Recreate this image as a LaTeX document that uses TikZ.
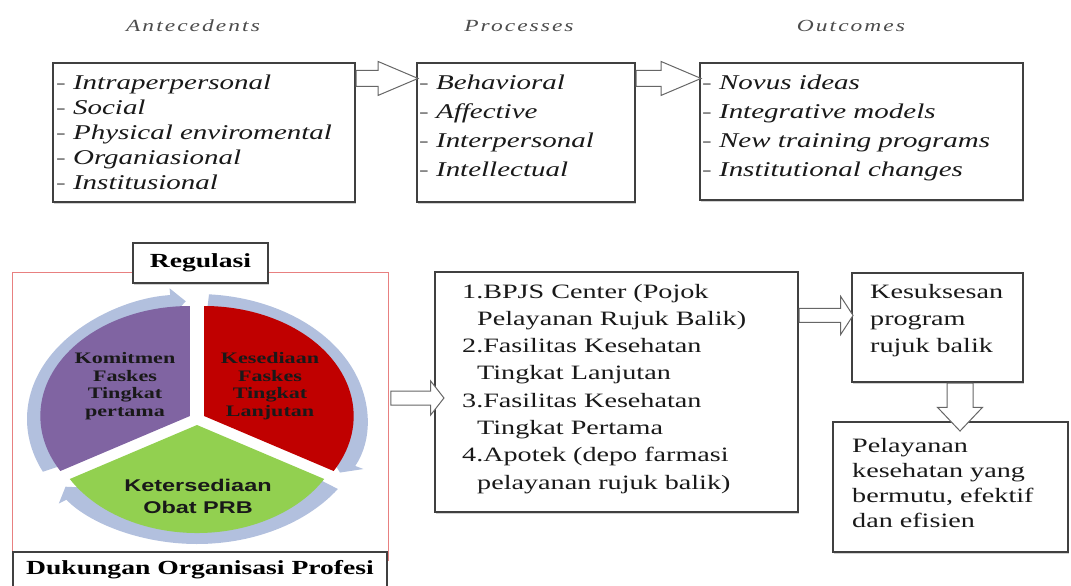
\documentclass[tikz,border=0pt]{standalone}
\usepackage{fontspec}
\setmainfont{Liberation Serif}[FakeStretch=1.38]
\newfontfamily\headfont{Liberation Serif}[FakeStretch=1.38, LetterSpace=12]
\newfontfamily\piesans{Liberation Sans}[FakeStretch=1.38]
\usepackage{tikz}
\usepackage{xcolor}
\usetikzlibrary{shapes,arrows.meta,positioning,calc,shadows}

\definecolor{ringblue}{RGB}{178,192,222}
\definecolor{segpurple}{RGB}{128,100,162}
\definecolor{segred}{RGB}{192,0,0}
\definecolor{seggreen}{RGB}{146,208,80}
\definecolor{framered}{RGB}{232,128,128}

\tikzset{
  infobox/.style={draw=black!75, line width=1.1pt, fill=white, inner sep=0pt,
    drop shadow={shadow xshift=1.2pt, shadow yshift=-1.5pt, fill=black!35}},
  tagbox/.style={infobox, font=\bfseries\fontsize{20}{24}\selectfont},
  headtext/.style={font=\headfont\itshape\fontsize{17}{20}\selectfont, text=black!70, anchor=base},
  itemtext/.style={font=\itshape\fontsize{21}{25}\selectfont, text=black!90, anchor=base west, inner sep=0pt},
  listtext/.style={font=\fontsize{20.4}{27}\selectfont, text=black!90, anchor=base west, inner sep=0pt},
  segtext/.style={font=\bfseries\fontsize{16}{17.5}\selectfont, text=black!90, align=center},
  blockarrow/.style={single arrow, draw=black!60, fill=white, line width=1pt,
    inner xsep=0pt, inner ysep=7.5pt, anchor=tail,
    single arrow head extend=9pt, single arrow tip angle=46}
}

\begin{document}
\begin{tikzpicture}[x=1pt, y=-1pt]
\useasboundingbox (0,0) rectangle (1071,586);

% --- upper model: antecedents -> processes -> outcomes
\node[headtext] (anteh) at (193,32) {Antecedents};
\node[headtext] (proch) at (519,32) {Processes};
\node[headtext] (outch) at (851,32) {Outcomes};

\node[infobox, minimum width=302pt, minimum height=139pt] (ante) at (204,132.5) {};
\node[infobox, minimum width=218pt, minimum height=139pt] (proc) at (526,132.5) {};
\node[infobox, minimum width=323pt, minimum height=137pt] (outc) at (861.5,131.5) {};

\foreach \t [count=\i] in {Intraperpersonal, Social, Physical enviromental, Organiasional, Institusional}
  \node[itemtext] (ante\i) at (56,{89+25*(\i-1)}) {{\color{black!55}-} \t};
\foreach \t [count=\i] in {Behavioral, Affective, Interpersonal, Intellectual}
  \node[itemtext] (proc\i) at (419,{89+29*(\i-1)}) {{\color{black!55}-} \t};
\foreach \t [count=\i] in {Novus ideas, Integrative models, New training programs, Institutional changes}
  \node[itemtext] (outc\i) at (702,{89+29*(\i-1)}) {{\color{black!55}-} \t};

\node[blockarrow, minimum height=62pt] (a1) at ($(ante.north east)+(0,16)$) {};
\node[blockarrow, minimum height=65pt] (a2) at ($(proc.north east)+(0,16)$) {};

% --- lower model: cycle with its frame
\node[draw=framered, line width=0.9pt, minimum width=376pt, minimum height=288pt] (frame) at (200,416) {};

\begin{scope}[transform canvas={shift={(197,419)}, xscale=1.36}, yscale=-1]
  \foreach \a/\b in {205/94, 86/-27, -34/-145}
    \draw[ringblue, line width=14pt, -{Triangle[length=11pt, width=27pt]}]
      (\a:118) arc[start angle=\a, end angle=\b, radius=118];
  \fill[segpurple] (150:6) -- ++(90:110) arc[start angle=90, end angle=210, radius=110] -- cycle;
  \fill[segred] (30:6) -- ++(-30:110) arc[start angle=-30, end angle=90, radius=110] -- cycle;
  \fill[seggreen] (270:6) -- ++(210:108) arc[start angle=210, end angle=330, radius=108] -- cycle;
\end{scope}

\node[segtext] (komit) at (125,386) {Komitmen\\Faskes\\Tingkat\\pertama};
\node[segtext] (sedia) at (270,386) {Kesediaan\\Faskes\\Tingkat\\Lanjutan};
\node[segtext, font=\piesans\bfseries\fontsize{17}{22}\selectfont] (obat) at (198,496) {Ketersediaan\\Obat PRB};

\node[tagbox, minimum width=135pt, minimum height=40pt] (reg) at (200.5,263) {Regulasi};
\node[tagbox, minimum width=374pt, minimum height=36pt] (dukung) at (200,570) {Dukungan Organisasi Profesi};

% --- service points and results
\node[infobox, minimum width=363pt, minimum height=240pt] (fasil) at (616.5,392) {};
\foreach \x/\t [count=\i] in {462/{1.BPJS Center (Pojok}, 477/{Pelayanan Rujuk Balik)},
    462/{2.Fasilitas Kesehatan}, 477/{Tingkat Lanjutan}, 462/{3.Fasilitas Kesehatan},
    477/{Tingkat Pertama}, 462/{4.Apotek (depo farmasi}, 477/{pelayanan rujuk balik)}}
  \node[listtext] (fasil\i) at (\x,{298+27.3*(\i-1)}) {\t};

\node[infobox, minimum width=171pt, minimum height=109pt] (sukses) at (937.5,327.5) {};
\foreach \t [count=\i] in {Kesuksesan, program, rujuk balik}
  \node[listtext] (sukses\i) at (870,{298+27*(\i-1)}) {\t};

\node[infobox, minimum width=235pt, minimum height=130pt] (mutu) at (950.5,487) {};
\foreach \t [count=\i] in {Pelayanan, kesehatan yang, {bermutu, efektif}, dan efisien}
  \node[listtext] (mutu\i) at (852,{452+25*(\i-1)}) {\t};

\node[blockarrow, minimum height=53pt, inner ysep=6.5pt, single arrow head extend=10pt, single arrow tip angle=104] (a3) at ($(frame.east)+(2,-18)$) {};
\node[blockarrow, minimum height=54pt, inner ysep=6.5pt, single arrow head extend=12pt, single arrow tip angle=114] (a4) at ($(fasil.north east)+(0,44)$) {};
\node[blockarrow, minimum height=48pt, inner xsep=12.5pt, inner ysep=0pt, single arrow head extend=9.5pt, single arrow tip angle=87, shape border rotate=270] (a5) at ($(sukses.south)+(22.5,0)$) {};
\end{tikzpicture}
\end{document}
